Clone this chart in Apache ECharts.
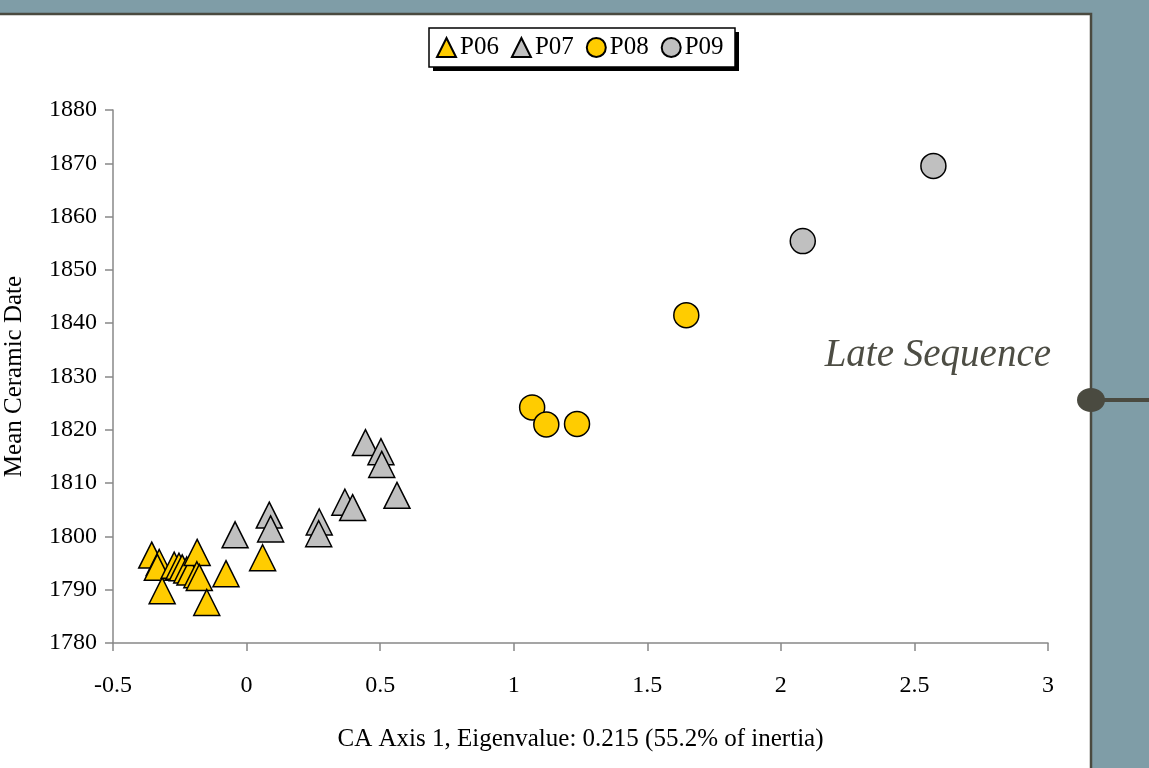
<!DOCTYPE html>
<html>
<head>
<meta charset="utf-8">
<script src="https://cdn.jsdelivr.net/npm/echarts@6/dist/echarts.min.js"></script>
<style>
  html, body { margin: 0; padding: 0; background: #7f9da7; }
  #chart { width: 1149px; height: 768px; }
</style>
</head>
<body>
<div id="chart"></div>
<script>
// CA axis 1 score vs mean ceramic date, per unit
var p06 = [
  [-0.355, 1796.5], [-0.327, 1795.1], [-0.334, 1794.2], [-0.316, 1789.8],
  [-0.271, 1794.6], [-0.253, 1794.4], [-0.241, 1794.1], [-0.224, 1793.7],
  [-0.212, 1793.3], [-0.185, 1797.0], [-0.186, 1792.8], [-0.177, 1792.3],
  [-0.149, 1787.6], [-0.077, 1793.0], [0.060, 1796.0]
];
var p07 = [
  [-0.043, 1800.3], [0.085, 1804.0], [0.090, 1801.4], [0.272, 1802.7],
  [0.270, 1800.5], [0.368, 1806.4], [0.397, 1805.4], [0.445, 1817.6],
  [0.503, 1815.9], [0.506, 1813.5], [0.563, 1807.7]
];
var p08 = [[1.069, 1824.2], [1.122, 1821.0], [1.237, 1821.1], [1.646, 1841.5]];
var p09 = [[2.082, 1855.4], [2.571, 1869.5]];

var seriesNames = ['P06', 'P07', 'P08', 'P09'];
var xName = 'CA Axis 1, Eigenvalue: 0.215 (55.2% of inertia)';
var yName = 'Mean Ceramic Date';

var gold = '#ffcc00';
var grey = '#c0c0c0';
var dark = '#4a4a40';
var font = 'Liberation Serif';

function mkSeries(name, data, symbol, color) {
  return {
    name: name,
    type: 'scatter',
    data: data,
    symbol: symbol,
    symbolSize: symbol === 'circle' ? 25 : 26,
    itemStyle: { color: color, borderColor: '#000', borderWidth: 1.5, opacity: 1 }
  };
}

var chart = echarts.init(document.getElementById('chart'));
chart.setOption({
  backgroundColor: '#7f9da7',
  animation: false,
  graphic: [
    { type: 'rect', z: -100, shape: { x: -10, y: 14, width: 1101, height: 770 },
      style: { fill: '#fff', stroke: dark, lineWidth: 2.5 } },
    { type: 'line', z: 100, shape: { x1: 1091, y1: 400, x2: 1149, y2: 400 },
      style: { stroke: dark, lineWidth: 4 } },
    { type: 'ellipse', z: 101, shape: { cx: 1091, cy: 400, rx: 14, ry: 12 },
      style: { fill: dark } },
    { type: 'text', z: 100, x: 1051, y: 356,
      style: { text: 'Late Sequence', fill: '#4d4d44', font: 'italic 39px "' + font + '"',
        align: 'right', verticalAlign: 'middle' } },
    // legend frame with hard drop shadow
    { type: 'rect', z: -50, shape: { x: 433, y: 32, width: 306, height: 39 },
      style: { fill: '#000' } },
    { type: 'rect', z: -49, shape: { x: 429, y: 28, width: 306, height: 39 },
      style: { fill: '#fff', stroke: '#000', lineWidth: 1.5 } }
  ],
  legend: {
    data: seriesNames,
    left: 429, top: 28,
    padding: [7, 8, 7, 7],
    itemGap: 12,
    itemWidth: 19, itemHeight: 19,
    textStyle: { fontFamily: font, fontSize: 25, color: '#000', padding: [0, 0, 0, -1] }
  },
  grid: { left: 113, right: 101, top: 110, bottom: 125, outerBoundsMode: 'none' },
  xAxis: {
    type: 'value', min: -0.5, max: 3, interval: 0.5,
    name: xName, nameLocation: 'middle', nameGap: 84,
    nameTextStyle: { fontFamily: font, fontSize: 25, color: '#000' },
    axisLine: { onZero: false, lineStyle: { color: '#888', width: 1.5 } },
    axisTick: { show: true, length: 8, lineStyle: { color: '#888', width: 1.5 } },
    axisLabel: { margin: 31, fontFamily: font, fontSize: 24, color: '#000' },
    splitLine: { show: false }
  },
  yAxis: {
    type: 'value', min: 1780, max: 1880, interval: 10,
    name: yName, nameLocation: 'middle', nameGap: 86,
    nameTextStyle: { fontFamily: font, fontSize: 25, color: '#000' },
    axisLine: { show: true, onZero: false, lineStyle: { color: '#888', width: 1.5 } },
    axisTick: { show: true, length: 8, lineStyle: { color: '#888', width: 1.5 } },
    axisLabel: { margin: 16, fontFamily: font, fontSize: 24, color: '#000',
      formatter: function (v) { return String(v); } },
    splitLine: { show: false }
  },
  series: [
    mkSeries('P06', p06, 'triangle', gold),
    mkSeries('P07', p07, 'triangle', grey),
    mkSeries('P08', p08, 'circle', gold),
    mkSeries('P09', p09, 'circle', grey)
  ]
});
</script>
</body>
</html>
